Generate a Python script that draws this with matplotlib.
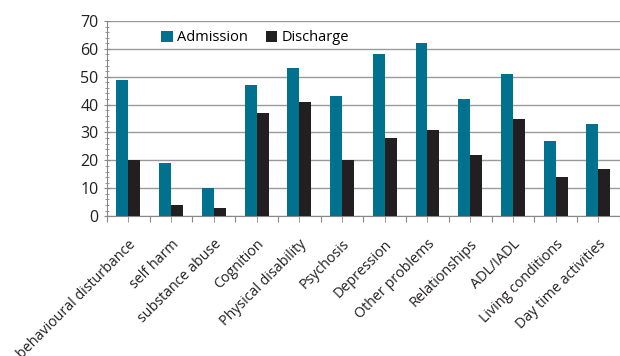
import numpy as np
import matplotlib.pyplot as plt
from matplotlib.ticker import MultipleLocator

categories = ['behavioural disturbance', 'self harm', 'substance abuse', 'Cognition',
              'Physical disability', 'Psychosis', 'Depression', 'Other problems',
              'Relationships', 'ADL/IADL', 'Living conditions', 'Day time activities']
admission = [49, 19, 10, 47, 53, 43, 58, 62, 42, 51, 27, 33]
discharge = [20, 4, 3, 37, 41, 20, 28, 31, 22, 35, 14, 17]

plt.rcParams['font.family'] = ['Open Sans', 'DejaVu Sans']

fig = plt.figure(figsize=(6.2, 3.56), dpi=100)
ax = fig.add_axes([0.1726, 0.393, 0.827, 0.548])

x = np.arange(len(categories))
w = 0.28
ax.bar(x - w / 2, admission, w, color='#00728f', label='Admission', zorder=3)
ax.bar(x + w / 2, discharge, w, color='#231f20', label='Discharge', zorder=3)

ax.set_ylim(0, 70)
ax.set_xlim(-0.5, len(categories) - 0.5)
ax.yaxis.set_major_locator(MultipleLocator(10))
ax.yaxis.set_minor_locator(MultipleLocator(2))
ax.grid(axis='y', color='#9a9a9a', lw=1, zorder=0)

# ticks at group boundaries and at group centres (labels on the centres)
ax.set_xticks(np.append(x - 0.5, len(categories) - 0.5), minor=False)
ax.set_xticklabels([])
ax.set_xticks(x, minor=True)
ax.set_xticklabels(categories, minor=True, rotation=45, ha='right',
                   rotation_mode='anchor', fontsize=10.3, color='#231f20')
ax.tick_params(axis='x', which='minor', length=4, color='#888888', pad=11)
ax.tick_params(axis='x', which='major', length=4, color='#888888')
ax.tick_params(axis='y', which='major', length=5, color='#888888',
               labelsize=11.5, labelcolor='#231f20', direction='inout')
ax.tick_params(axis='y', which='minor', length=3, color='#888888', direction='inout')

for s in ['top', 'right']:
    ax.spines[s].set_visible(False)
for s in ['left', 'bottom']:
    ax.spines[s].set_color('#888888')

ax.legend(loc='upper left', bbox_to_anchor=(0.08, 1.02), ncol=2, frameon=False,
          fontsize=10.5, handlelength=0.8, handleheight=0.8, handletextpad=0.3,
          columnspacing=1.2)

fig.savefig('out.png', dpi=100)
